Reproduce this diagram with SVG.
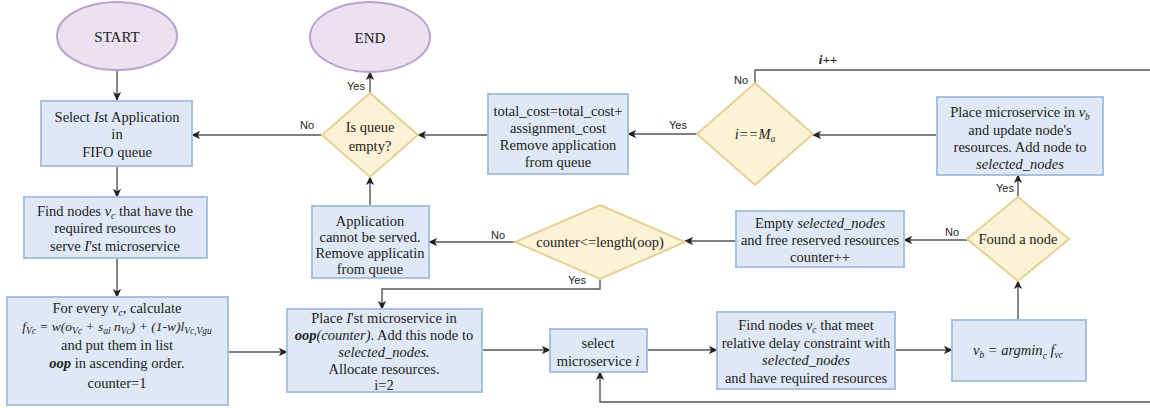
<svg xmlns="http://www.w3.org/2000/svg" width="1150" height="408" viewBox="0 0 1150 408">
<defs>
<marker id="arr" viewBox="0 0 10 10" refX="9" refY="5" markerWidth="9" markerHeight="9" markerUnits="userSpaceOnUse" orient="auto">
<path d="M0,0.5 L10,5 L0,9.5 L2.5,5 Z" fill="#222"/>
</marker>
<style>
.box{fill:#dfe8f6;stroke:#a9c0de;stroke-width:2}
.dia{fill:#fcf2d6;stroke:#e6d193;stroke-width:2}
.ell{fill:#ebe1f1;stroke:#b9a2cd;stroke-width:2}
.t{font-family:"Liberation Serif","DejaVu Serif","Times New Roman",serif;font-size:14.5px;fill:#222;text-anchor:middle}
.i{font-style:italic}
.b{font-weight:bold}
.s{font-size:9.5px}
.lab{font-family:"Liberation Sans",Arial,sans-serif;font-size:11px;fill:#222;text-anchor:middle}
.c{fill:none;stroke:#555;stroke-width:1.4}
.ca{fill:none;stroke:#555;stroke-width:1.4;marker-end:url(#arr)}
</style>
</defs>
<rect width="1150" height="408" fill="#ffffff"/>

<g id="connectors">
<path class="ca" d="M117,70 L117,100"/>
<path class="ca" d="M117,166 L117,197"/>
<path class="ca" d="M117,258 L117,297"/>
<path class="ca" d="M228,352 L287,352"/>
<path class="ca" d="M482,350 L550,350"/>
<path class="ca" d="M647,350 L717,350"/>
<path class="ca" d="M895,350 L952,350"/>
<path class="ca" d="M1018,320 L1018,281"/>
<path class="ca" d="M1018,197 L1018,175"/>
<path class="ca" d="M967,240 L904,240"/>
<path class="ca" d="M736,241 L685,241"/>
<path class="ca" d="M515,242 L429,242"/>
<path class="ca" d="M600,279 L600,289 L382,289 L382,309"/>
<path class="ca" d="M370,206 L370,177"/>
<path class="ca" d="M370,93 L370,72"/>
<path class="ca" d="M322,135 L192,135"/>
<path class="ca" d="M488,135 L418,135"/>
<path class="ca" d="M697,134 L628,134"/>
<path class="ca" d="M937,135 L813,135"/>
<path class="c" d="M755,83 L755,70 L1150,70"/>
<path class="ca" d="M1150,402 L600,402 L600,372"/>
<text class="lab" x="307" y="129">No</text>
<text class="lab" x="356" y="90">Yes</text>
<text class="lab" x="678" y="129">Yes</text>
<text class="lab" x="741" y="84">No</text>
<text class="t i b" x="828" y="64" style="font-size:13px">i++</text>
<text class="lab" x="1005" y="192">Yes</text>
<text class="lab" x="952" y="236">No</text>
<text class="lab" x="498" y="239">No</text>
<text class="lab" x="577" y="284">Yes</text>
</g>

<g id="start">
<ellipse class="ell" cx="117" cy="36" rx="60" ry="34"/>
<text class="t" x="117" y="42" style="font-size:15px">START</text>
</g>

<g id="end">
<ellipse class="ell" cx="370" cy="37" rx="60" ry="35"/>
<text class="t" x="370" y="43" style="font-size:15px">END</text>
</g>

<g id="select-app">
<rect class="box" x="41" y="101" width="151" height="65"/>
<text class="t" x="117" y="122">Select <tspan class="i">I</tspan>st Application</text>
<text class="t" x="117" y="139">in</text>
<text class="t" x="117" y="157">FIFO queue</text>
</g>

<g id="find-nodes-first">
<rect class="box" x="24" y="197" width="183" height="61"/>
<text class="t" x="115" y="216">Find nodes <tspan class="i">v</tspan><tspan class="s i" dy="3">c</tspan><tspan dy="-3"> that have the</tspan></text>
<text class="t" x="115" y="233">required resources to</text>
<text class="t" x="115" y="251">serve <tspan class="i">I</tspan>'st microservice</text>
</g>

<g id="for-every">
<rect class="box" x="7" y="297" width="221" height="108"/>
<text class="t" x="117" y="313">For every <tspan class="i">v</tspan><tspan class="s i" dy="3">c</tspan><tspan dy="-3">, calculate</tspan></text>
<text class="t i" x="117" y="331" style="font-size:13.5px">f<tspan class="s" dy="3">Vc</tspan><tspan dy="-3"> = w(o</tspan><tspan class="s" dy="3">Vc</tspan><tspan dy="-3"> + s</tspan><tspan class="s" dy="3">ai</tspan><tspan dy="-3"> n</tspan><tspan class="s" dy="3">Vc</tspan><tspan dy="-3">) + (1-w)l</tspan><tspan class="s" dy="3">Vc,Vgu</tspan></text>
<text class="t" x="117" y="350">and put them in list</text>
<text class="t" x="117" y="368"><tspan class="i b">oop</tspan> in ascending order.</text>
<text class="t" x="117" y="388">counter=1</text>
</g>

<g id="place-first">
<rect class="box" x="287" y="309" width="195" height="83"/>
<text class="t" x="384" y="323">Place <tspan class="i">I</tspan>'st microservice in</text>
<text class="t" x="384" y="340"><tspan class="i b">oop</tspan><tspan class="i">(counter)</tspan>. Add this node to</text>
<text class="t i" x="384" y="357">selected_nodes.</text>
<text class="t" x="384" y="374">Allocate resources.</text>
<text class="t" x="384" y="390">i=2</text>
</g>

<g id="select-microservice">
<rect class="box" x="550" y="329" width="97" height="43"/>
<text class="t" x="598" y="348">select</text>
<text class="t" x="598" y="366">microservice <tspan class="i">i</tspan></text>
</g>

<g id="find-nodes-delay">
<rect class="box" x="717" y="312" width="178" height="77"/>
<text class="t" x="806" y="330">Find nodes <tspan class="i">v</tspan><tspan class="s i" dy="3">c</tspan><tspan dy="-3"> that meet</tspan></text>
<text class="t" x="806" y="348">relative delay constraint with</text>
<text class="t i" x="806" y="365">selected_nodes</text>
<text class="t" x="806" y="383">and have  required resources</text>
</g>

<g id="argmin">
<rect class="box" x="952" y="320" width="134" height="61"/>
<text class="t i" x="1018" y="355">v<tspan class="s" dy="3">b</tspan><tspan dy="-3"> = argmin</tspan><tspan class="s" dy="4">c</tspan><tspan dy="-4"> f</tspan><tspan class="s" dy="3">vc</tspan></text>
</g>

<g id="found-node">
<polygon class="dia" points="1018,197 1069,239 1018,281 967,239"/>
<text class="t" x="1018" y="244">Found a node</text>
</g>

<g id="place-vb">
<rect class="box" x="937" y="97" width="166" height="78"/>
<text class="t" x="1020" y="117">Place microservice in <tspan class="i">v</tspan><tspan class="s i" dy="3">b</tspan></text>
<text class="t" x="1020" y="135">and update node's</text>
<text class="t" x="1020" y="152">resources. Add node to</text>
<text class="t i" x="1020" y="169">selected_nodes</text>
</g>

<g id="empty-selected">
<rect class="box" x="736" y="211" width="168" height="56"/>
<text class="t" x="820" y="228">Empty <tspan class="i">selected_nodes</tspan></text>
<text class="t" x="820" y="245">and free reserved resources</text>
<text class="t" x="820" y="262">counter++</text>
</g>

<g id="counter-check">
<polygon class="dia" points="600,205 685,242 600,279 515,242"/>
<text class="t" x="600" y="247">counter&lt;=length(oop)</text>
</g>

<g id="cannot-serve">
<rect class="box" x="312" y="206" width="117" height="72"/>
<text class="t" x="370" y="226">Application</text>
<text class="t" x="370" y="242">cannot be served.</text>
<text class="t" x="370" y="258">Remove applicatin</text>
<text class="t" x="370" y="274">from queue</text>
</g>

<g id="queue-empty">
<polygon class="dia" points="370,93 418,135 370,177 322,135"/>
<text class="t" x="370" y="132">Is queue</text>
<text class="t" x="370" y="151">empty?</text>
</g>

<g id="total-cost">
<rect class="box" x="488" y="94" width="140" height="80"/>
<text class="t" x="558" y="116">total_cost=total_cost+</text>
<text class="t" x="558" y="133">assignment_cost</text>
<text class="t" x="558" y="150">Remove application</text>
<text class="t" x="558" y="167">from queue</text>
</g>

<g id="i-equals-m">
<polygon class="dia" points="755,83 813,134 755,185 697,134"/>
<text class="t i" x="755" y="139">i==M<tspan class="s" dy="3">a</tspan></text>
</g>
</svg>
